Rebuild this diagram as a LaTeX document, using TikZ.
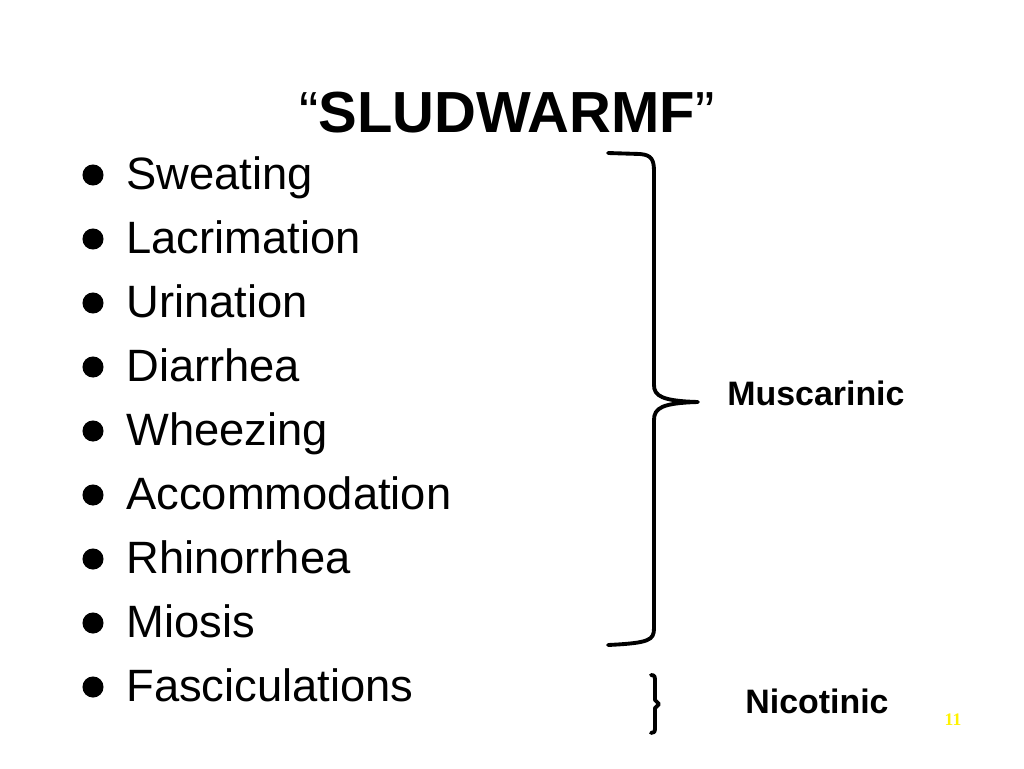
\documentclass[tikz,border=0pt]{standalone}
\usepackage{fontspec}
\setmainfont{Liberation Sans}
\begin{document}
\begin{tikzpicture}[x=0.02cm,y=-0.02cm,
    item/.style={anchor=base west,inner sep=0pt,font=\fontsize{25.8}{30}\selectfont},
    brace/.style={line width=2.2pt,line cap=round,line join=round}]
  \useasboundingbox (0,0) rectangle (1024,768);
  % Title
  \node[anchor=base,inner sep=0pt,font=\fontsize{33}{40}\selectfont] (title) at (507,132) {``\textbf{SLUDWARMF}''};
  % Items
  \foreach \txt [count=\i] in {Sweating,Lacrimation,Urination,Diarrhea,Wheezing,Accommodation,Rhinorrhea,Miosis,Fasciculations}{
    \node[item] (item\i) at (126,125+64*\i) {\txt};
    \node[circle,fill,inner sep=0pt,minimum size=12pt] (dot\i) at (93,111+64*\i) {};
  }
  % Braces
  \draw[brace] (608,153) -- (640,154) .. controls (652,155) and (654,160) .. (654,172)
    -- (654,385) .. controls (654,396) and (662,401) .. (698,402)
    .. controls (662,403) and (654,408) .. (654,420)
    -- (654,628) .. controls (654,640) and (650,643) .. (608,645);
  \draw[brace] (651,675) .. controls (655,675) and (655,677) .. (655,682)
    -- (655,700) -- (659,704) -- (655,708) -- (655,728)
    .. controls (655,732) and (654,733) .. (651,733);
  % Labels
  \node[anchor=base west,inner sep=0pt,font=\fontsize{19.3}{22}\selectfont\bfseries] (musc) at (727,405) {Muscarinic};
  \node[anchor=base west,inner sep=0pt,font=\fontsize{19.3}{22}\selectfont\bfseries] (nic) at (745,713) {Nicotinic};
  \node[anchor=base,inner sep=0pt,text=yellow,font=\fontspec{Liberation Serif}\fontsize{10}{12}\selectfont\bfseries] (page) at (953,725) {11};
\end{tikzpicture}
\end{document}
